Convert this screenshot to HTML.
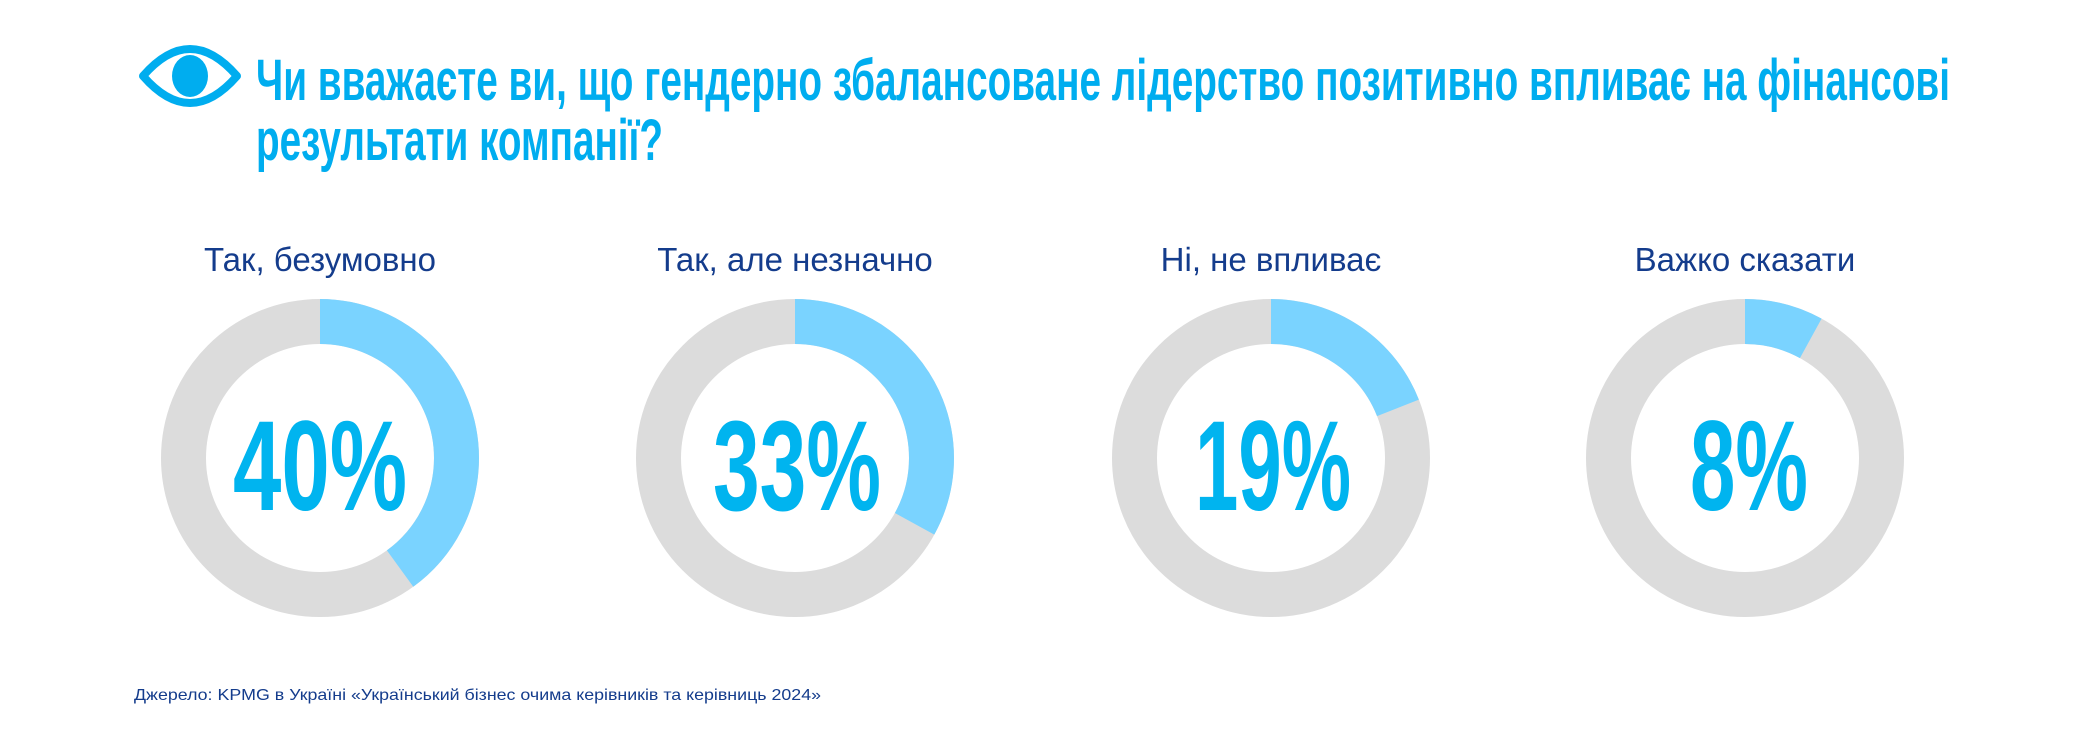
<!DOCTYPE html>
<html><head><meta charset="utf-8"><style>
html,body{margin:0;padding:0;background:#fff;width:2083px;height:729px;overflow:hidden}
svg{display:block}
.t{font-family:"Liberation Sans Narrow","Liberation Sans",sans-serif;font-weight:bold;fill:#00adef}
.l{font-family:"Liberation Sans",sans-serif;font-size:33px;fill:#143c8c;text-anchor:middle}
.p{font-family:"Liberation Sans Narrow","Liberation Sans",sans-serif;font-weight:bold;font-size:128px;fill:#00b4ef}
</style></head><body>
<svg width="2083" height="729" viewBox="0 0 2083 729" xmlns="http://www.w3.org/2000/svg">
<path d="M143 76 Q190 22 237 76 Q190 130 143 76 Z" fill="none" stroke="#00adef" stroke-width="8" stroke-linejoin="round"/>
<ellipse cx="190" cy="76" rx="18" ry="21" fill="#00adef"/>
<text class="t" x="256" y="100" font-size="58" textLength="1694" lengthAdjust="spacingAndGlyphs">Чи вважаєте ви, що гендерно збалансоване лідерство позитивно впливає на фінансові</text>
<text class="t" x="256" y="160" font-size="58" textLength="407" lengthAdjust="spacingAndGlyphs">результати компанії?</text>

<g>
<text class="l" x="320" y="271">Так, безумовно</text>
<circle cx="320" cy="458" r="136.5" fill="none" stroke="#dcdcdc" stroke-width="45"/>
<circle cx="320" cy="458" r="136.5" fill="none" stroke="#7ad3ff" stroke-width="45" stroke-dasharray="343.1 1000" transform="rotate(-90 320 458)"/>
<text class="p" x="233" y="510" textLength="174" lengthAdjust="spacingAndGlyphs">40%</text>
</g>
<g>
<text class="l" x="795" y="271">Так, але незначно</text>
<circle cx="795" cy="458" r="136.5" fill="none" stroke="#dcdcdc" stroke-width="45"/>
<circle cx="795" cy="458" r="136.5" fill="none" stroke="#7ad3ff" stroke-width="45" stroke-dasharray="283 1000" transform="rotate(-90 795 458)"/>
<text class="p" x="713" y="510" textLength="168" lengthAdjust="spacingAndGlyphs">33%</text>
</g>
<g>
<text class="l" x="1271" y="271">Ні, не впливає</text>
<circle cx="1271" cy="458" r="136.5" fill="none" stroke="#dcdcdc" stroke-width="45"/>
<circle cx="1271" cy="458" r="136.5" fill="none" stroke="#7ad3ff" stroke-width="45" stroke-dasharray="163 1000" transform="rotate(-90 1271 458)"/>
<text class="p" x="1195" y="510" textLength="156" lengthAdjust="spacingAndGlyphs">19%</text>
</g>
<g>
<text class="l" x="1745" y="271">Важко сказати</text>
<circle cx="1745" cy="458" r="136.5" fill="none" stroke="#dcdcdc" stroke-width="45"/>
<circle cx="1745" cy="458" r="136.5" fill="none" stroke="#7ad3ff" stroke-width="45" stroke-dasharray="68.6 1000" transform="rotate(-90 1745 458)"/>
<text class="p" x="1690" y="510" textLength="118" lengthAdjust="spacingAndGlyphs">8%</text>
</g>

<text x="134" y="700" font-family="Liberation Sans, sans-serif" font-size="16" fill="#143c8c" textLength="687" lengthAdjust="spacingAndGlyphs">Джерело: KPMG в Україні «Український бізнес очима керівників та керівниць 2024»</text>
</svg>
</body></html>
